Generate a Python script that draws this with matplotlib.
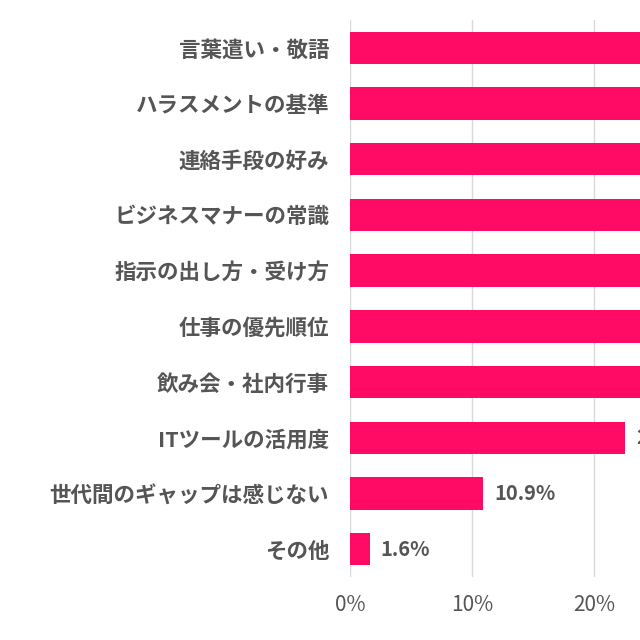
import matplotlib
matplotlib.use("Agg")
import matplotlib.pyplot as plt

plt.rcParams['font.family'] = ['Noto Sans CJK JP', 'DejaVu Sans']

categories = ["言葉遣い・敬語", "ハラスメントの基準", "連絡手段の好み", "ビジネスマナーの常識",
              "指示の出し方・受け方", "仕事の優先順位", "飲み会・社内行事", "ITツールの活用度",
              "世代間のギャップは感じない", "その他"]
values = [45.3, 41.8, 38.2, 35.6, 33.1, 30.4, 27.9, 22.5, 10.9, 1.6]
xticks = [0, 10, 20, 30, 40, 50]

bar_color = "#FF0A64"
text_color = "#555555"

fig = plt.figure(figsize=(6.4, 6.4), dpi=100)
# axes runs past the right edge, the reference is cropped there
ax = fig.add_axes([350 / 640, 63 / 640, 611 / 640, 557 / 640])

y = list(range(len(categories)))[::-1]
ax.barh(y, values, height=0.58, color=bar_color, zorder=3)
for yi, v in zip(y, values):
    ax.text(v + 0.9, yi, f"{v}%", va="center", ha="left", fontsize=14.5,
            color=text_color, fontweight="bold")

ax.set_xlim(0, 50)
ax.set_ylim(-0.5, len(categories) - 0.5)
ax.set_yticks(y)
ax.set_yticklabels(categories, fontsize=15.5, color=text_color, fontweight="bold")
ax.set_xticks(xticks)
ax.set_xticklabels([f"{t}%" for t in xticks], fontsize=15, color=text_color)
ax.tick_params(axis="both", length=0)
ax.tick_params(axis="y", pad=15)
ax.tick_params(axis="x", pad=12)
ax.grid(axis="x", color="#D9D9D9", linewidth=1, zorder=0)
for s in ax.spines.values():
    s.set_visible(False)

fig.savefig("out.png", dpi=100)
